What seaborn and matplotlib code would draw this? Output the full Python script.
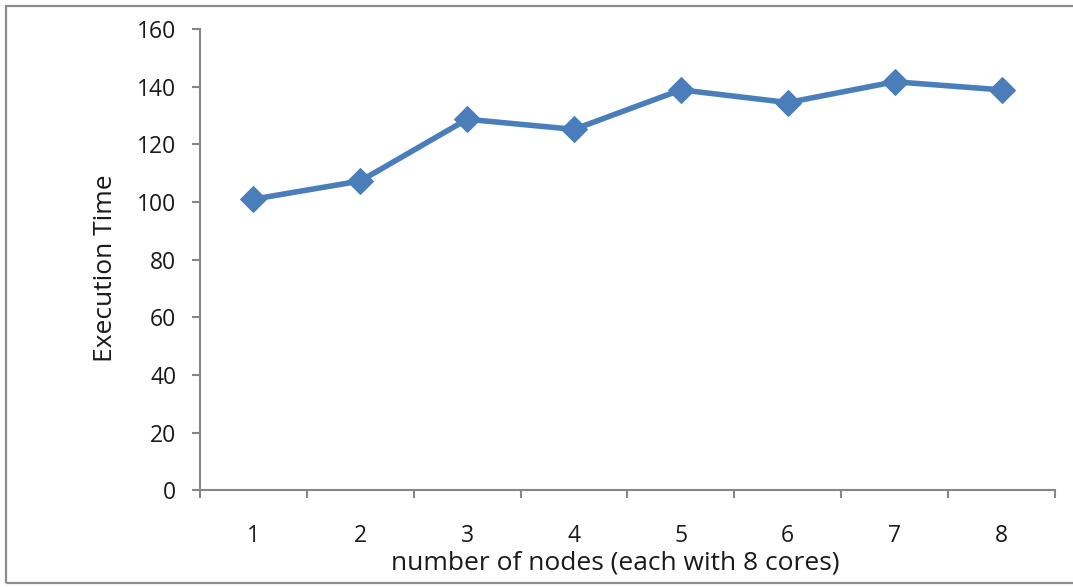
import matplotlib
matplotlib.use("Agg")
import matplotlib.pyplot as plt
from matplotlib.patches import Rectangle
from matplotlib.ticker import FixedLocator, NullFormatter, FixedFormatter
import seaborn as sns
import pandas as pd

# Measured execution time per cluster size
nodes = [1, 2, 3, 4, 5, 6, 7, 8]
exec_time = [101.0, 107.3, 128.7, 125.2, 138.9, 134.5, 141.7, 138.9]
y_ticks = [0, 20, 40, 60, 80, 100, 120, 140, 160]

df = pd.DataFrame({"nodes": nodes, "time": exec_time})

sns.set_theme(style="white")
plt.rcParams["font.family"] = ["Open Sans", "DejaVu Sans"]

fig = plt.figure(figsize=(10.73, 5.87), dpi=100)
ax = fig.add_axes([0.1864, 0.1644, 0.9832 - 0.1864, 0.9506 - 0.1644])

line_color = "#4A7EBB"
sns.lineplot(data=df, x="nodes", y="time", ax=ax, color=line_color,
             linewidth=4.0, marker="D", markersize=13,
             markeredgecolor=line_color, markerfacecolor=line_color)

ax.set_xlim(0.5, 8.5)
ax.set_ylim(0, 160)

grey = "#868686"
text_col = "#1a1a1a"
fs_tick = 16.5
fs_label = 19
for side in ["top", "right"]:
    ax.spines[side].set_visible(False)
for side in ["left", "bottom"]:
    ax.spines[side].set_color(grey)
    ax.spines[side].set_linewidth(1.5)

# Category boundaries carry the tick marks; labels sit at the centres
ax.xaxis.set_major_locator(FixedLocator([i + 0.5 for i in range(0, len(nodes) + 1)]))
ax.xaxis.set_major_formatter(NullFormatter())
ax.xaxis.set_minor_locator(FixedLocator(nodes))
ax.xaxis.set_minor_formatter(FixedFormatter([str(n) for n in nodes]))
ax.tick_params(axis="x", which="major", direction="out", length=6, width=1.5,
               color=grey, bottom=True)
ax.tick_params(axis="x", which="minor", length=0, pad=24, labelsize=fs_tick,
               labelcolor=text_col)

ax.set_yticks(y_ticks)
ax.tick_params(axis="y", direction="out", length=6, width=1.5, color=grey,
               left=True, pad=11, labelsize=fs_tick, labelcolor=text_col)

ax.set_xlabel("number of nodes (each with 8 cores)", fontsize=fs_label,
              color=text_col, labelpad=2)
ax.set_ylabel("Execution Time", fontsize=fs_label, color=text_col, labelpad=14)
ax.xaxis.label.set_x(0.486)
ax.yaxis.label.set_y(0.481)

# Outer chart frame
fig.patches.append(Rectangle((6 / 1073, 4 / 587), 1.2, 1 - 10 / 587,
                             transform=fig.transFigure, fill=False,
                             edgecolor="#8c8c8c", linewidth=1.6))

fig.savefig("out.png", dpi=100, facecolor="white")
